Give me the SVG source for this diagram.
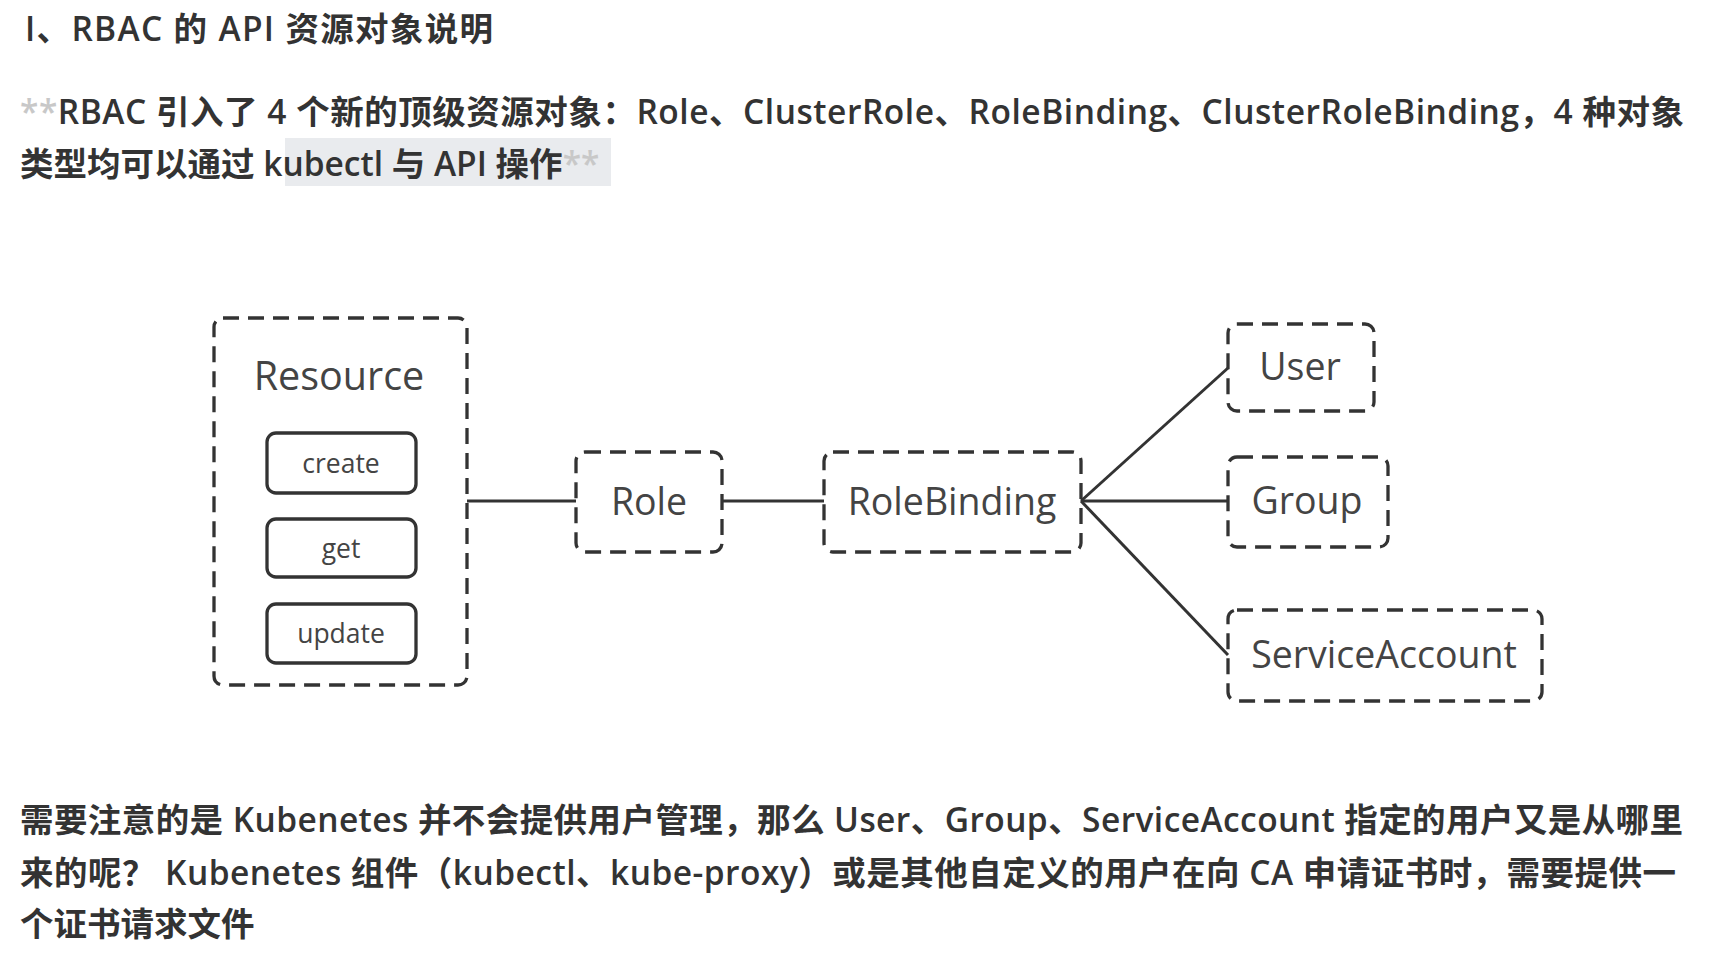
<svg xmlns="http://www.w3.org/2000/svg" width="1736" height="958" viewBox="0 0 1736 958">
<style>
.t{font-family:"Open Sans","Noto Sans CJK SC",sans-serif;font-weight:600;fill:#333;font-size:33.5px}
.st{fill:#c8c8c8}
.lbl{font-family:"Open Sans","Noto Sans CJK SC",sans-serif;font-weight:400;fill:#444;text-anchor:middle}
.dash{fill:none;stroke:#333;stroke-width:3.3;stroke-dasharray:16 9}
.solid{fill:none;stroke:#333;stroke-width:3.3}
.conn{stroke:#333;stroke-width:3;fill:none}
</style>
<rect width="1736" height="958" fill="#fff"/>
<text class="t" x="25" y="41" textLength="468">I、RBAC 的 API 资源对象说明</text>
<rect x="285" y="138" width="326" height="48" fill="#e9ebee"/>
<text class="t" x="20" y="124" textLength="1664"><tspan class="st">**</tspan>RBAC 引入了 4 个新的顶级资源对象：Role、ClusterRole、RoleBinding、ClusterRoleBinding，4 种对象</text>
<text class="t" x="20" y="176">类型均可以通过 kubectl 与 API 操作<tspan class="st">**</tspan></text>
<g id="connectors">
<line class="conn" x1="467" y1="501" x2="576" y2="501"/>
<line class="conn" x1="722" y1="501" x2="824" y2="501"/>
<line class="conn" x1="1081" y1="501" x2="1228" y2="368"/>
<line class="conn" x1="1081" y1="501" x2="1228" y2="501"/>
<line class="conn" x1="1081" y1="501" x2="1228" y2="655"/>
</g>
<g id="resource">
<rect class="dash" x="214" y="318" width="253" height="367" rx="9"/>
<text class="lbl" x="339" y="390" font-size="39.5">Resource</text>
</g>
<g id="create">
<rect class="solid" x="267" y="433" width="149" height="60" rx="9" fill="#fff"/>
<text class="lbl" x="341" y="473" font-size="26.5">create</text>
</g>
<g id="get">
<rect class="solid" x="267" y="519" width="149" height="58" rx="9" fill="#fff"/>
<text class="lbl" x="341" y="558" font-size="26.5">get</text>
</g>
<g id="update">
<rect class="solid" x="267" y="604" width="149" height="59" rx="9" fill="#fff"/>
<text class="lbl" x="341" y="643" font-size="26.5">update</text>
</g>
<g id="role">
<rect class="dash" x="576" y="452" width="146" height="100" rx="9"/>
<text class="lbl" x="649" y="515" font-size="37.5">Role</text>
</g>
<g id="rolebinding">
<rect class="dash" x="824" y="452" width="257" height="100" rx="9"/>
<text class="lbl" x="952" y="515" font-size="37.5">RoleBinding</text>
</g>
<g id="user">
<rect class="dash" x="1228" y="324" width="146" height="87" rx="9"/>
<text class="lbl" x="1300" y="380" font-size="37.5">User</text>
</g>
<g id="group">
<rect class="dash" x="1228" y="457" width="160" height="90" rx="9"/>
<text class="lbl" x="1307" y="514" font-size="37.5">Group</text>
</g>
<g id="serviceaccount">
<rect class="dash" x="1228" y="610" width="314" height="91" rx="9"/>
<text class="lbl" x="1384" y="668" font-size="37.5">ServiceAccount</text>
</g>
<text class="t" x="20" y="832" textLength="1663">需要注意的是 Kubenetes 并不会提供用户管理，那么 User、Group、ServiceAccount 指定的用户又是从哪里</text>
<text class="t" x="20" y="885" textLength="1656">来的呢？ Kubenetes 组件（kubectl、kube-proxy）或是其他自定义的用户在向 CA 申请证书时，需要提供一</text>
<text class="t" x="20" y="936">个证书请求文件</text>
</svg>
